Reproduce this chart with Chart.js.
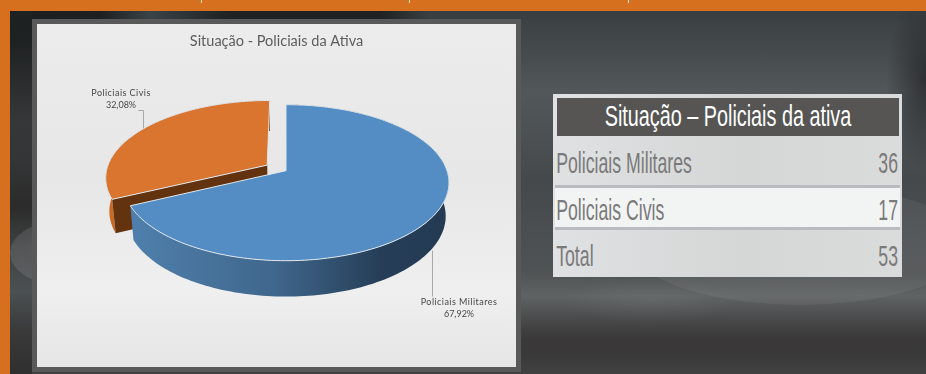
<!DOCTYPE html>
<html lang="pt-BR">
<head>
<meta charset="utf-8">
<title>Situação - Policiais da Ativa</title>
<script src="https://cdn.jsdelivr.net/npm/chart.js@4"></script>
<style>
  html, body { margin: 0; padding: 0; }
  body {
    position: relative;
    width: 926px;
    height: 374px;
    overflow: hidden;
    background: #d6701f;
  }
  .stage {
    position: absolute;
    left: 10px;
    top: 11px;
    right: 0;
    bottom: 0;
    background:
      radial-gradient(ellipse 170px 60px at 790px 234px, rgba(255,255,255,.07) 0, rgba(255,255,255,.05) 99%, rgba(255,255,255,0) 100%),
      radial-gradient(ellipse 50px 32px at 50px 242px, rgba(255,255,255,.12) 0, rgba(255,255,255,.10) 99%, rgba(255,255,255,0) 100%),
      radial-gradient(ellipse 40px 90px at 916px 70px, rgba(20,20,20,.55), rgba(20,20,20,0)),
      radial-gradient(ellipse 90px 24px at 640px 290px, rgba(255,255,255,.05), rgba(255,255,255,0)),
      linear-gradient(180deg, #1e2122 0, #1f2223 30px, #353738 110px, #343536 150px, #2b2b2b 195px, #3f4142 235px, #4b5052 280px, #3a3a3a 320px, #2f2f2f 363px) 0 0 / 22px 100% no-repeat,
      linear-gradient(90deg, #1c1e1f 0, #1d1f20 90px, #3a4347 140px, #1f2122 220px, #1f2122 370px, #3a4042 420px) 0 0 / 100% 8px no-repeat,
      linear-gradient(180deg, #3a3f42 0, #42474a 30px, #52575a 80px, #45494c 170px, #505354 262px, #5f6363 285px, #4c4d4e 305px, #3a3838 328px, #3b3a3a 345px, #414141 363px);
  }
  .tick { position: absolute; top: 0; width: 1px; height: 3px; background: #f6e6d6; }
  .panel {
    position: absolute;
    left: 32px;
    top: 19px;
    width: 479px;
    height: 343px;
    border: 5px solid #585958;
    background: linear-gradient(180deg, #ececed 0, #e7e7e7 45%, #efefef 78%, #e6e6e6 100%);
  }
  .panel canvas { display: block; }
  .tableBox {
    position: absolute;
    left: 553px;
    top: 94px;
    width: 349px;
    height: 183px;
    overflow: hidden;
    background: linear-gradient(90deg, #dfe1e2 0, #d5d6d6 55%, #dadbdb 100%);
  }
  table {
    position: absolute;
    left: 2px;
    top: 0;
    width: 345px;
    border-collapse: separate;
    border-spacing: 0;
    table-layout: fixed;
    font-family: "Liberation Sans Narrow", "Liberation Sans", sans-serif;
  }
  th, td { padding: 0; overflow: hidden; white-space: nowrap; }
  .head { height: 42px; padding: 4px 1px 0 2px; box-sizing: border-box; }
  .head div {
    position: relative;
    height: 38px;
    line-height: 36px;
    background: #565553;
    color: #fff;
    font-size: 30px;
    font-weight: normal;
  }
  .head span { position: absolute; left: 50%; top: 0; transform: translateX(-50%) scale(.66, 1); }
  tr.row td { color: #7a7a7a; font-size: 30px; }
  tr.row .name span { display: inline-block; position: relative; transform: scale(.59, 1); transform-origin: left center; padding-left: 2px; }
  tr.row .num { text-align: right; width: 50px; }
  tr.row .num span { display: inline-block; position: relative; transform: scale(.59, 1); transform-origin: right center; padding-right: 4px; }
  tr.r0 td { height: 49px; border-bottom: 3px solid #b9bbc0; }
  tr.r1 td { height: 39px; background: #f2f4f4; border-bottom: 3px solid #b9bbc0; }
  tr.r2 td { height: 47px; }
  tr.r0 span { top: 2.5px; }
  tr.r1 span { top: 2px; }
  tr.r2 span { top: 2px; }
</style>
</head>
<body>
<div class="stage"></div>
<div class="tick" style="left:201px"></div>
<div class="tick" style="left:409px"></div>
<div class="tick" style="left:628px"></div>
<div class="panel"><canvas id="situacaoChart" width="479" height="343"></canvas></div>
<div class="tableBox"><table id="situacaoTable"></table></div>

<script>
const chartTitle = "Situação - Policiais da Ativa"
const tableTitle = "Situação – Policiais da ativa"
const categories = ["Policiais Militares", "Policiais Civis"]
const officers = [36, 17]
const tableLabels = ["Policiais Militares", "Policiais Civis", "Total"]
const tableValues = [36, 17, 53]

const sliceColors = ["#548dc4", "#d9752f"]
const cutFaceColors = ["#2b4a68", "#63330f"]
const labelAnchors = [
  { x: 422, y: 278 },
  { x: 84, y: 69 }
]
const leaderLines = [
  [[395, 226], [395, 272]],
  [[106, 104], [106, 86], [101, 86]]
]

// Squashed pie with some perspective, the numbers are the ellipse size in px
const tilt = { shiftX: 9.5, rx: 161, ry: 76.15, perspective: 0.1538, depth: 33, bottomScale: 0.98 }

function project(cx, cy, u, v, lower) {
  const w = 1 - tilt.perspective * v
  const k = lower ? tilt.bottomScale : 1
  return {
    x: cx + tilt.shiftX + tilt.rx * u / w * k,
    y: cy + tilt.ry * v / w + (lower ? tilt.depth / Math.sqrt(w) : 0)
  }
}

function sliceOutline(arc) {
  const { x, y, startAngle, endAngle, outerRadius } = arc
  const mid = (startAngle + endAngle) / 2
  const shift = (arc.options.offset || 0) / outerRadius
  const ou = Math.cos(mid) * shift
  const ov = Math.sin(mid) * shift
  const rim = (lower) => {
    const pts = []
    const steps = Math.ceil((endAngle - startAngle) * 40)
    for (let i = 0; i <= steps; i++) {
      const a = startAngle + (endAngle - startAngle) * i / steps
      pts.push(project(x, y, ou + Math.cos(a), ov + Math.sin(a), lower))
    }
    return pts
  }
  return {
    top: rim(false),
    bottom: rim(true),
    apexTop: project(x, y, ou, ov, false),
    apexBottom: project(x, y, ou, ov, true)
  }
}

function tracePolygon(ctx, pts) {
  ctx.beginPath()
  pts.forEach((p, i) => (i ? ctx.lineTo(p.x, p.y) : ctx.moveTo(p.x, p.y)))
  ctx.closePath()
}

function wallGradient(ctx, index) {
  const g = ctx.createLinearGradient(90, 0, 415, 0)
  if (index === 0) {
    g.addColorStop(0, "#4f80ad")
    g.addColorStop(0.45, "#40678c")
    g.addColorStop(0.78, "#263e58")
    g.addColorStop(1, "#233a52")
  } else {
    g.addColorStop(0, "#c96a26")
    g.addColorStop(0.08, "#a5561c")
    g.addColorStop(1, "#63330f")
  }
  return g
}

const pie3d = {
  id: "pie3d",
  beforeDatasetDraw(chart, args) {
    // the flat arcs are replaced by the projected slices below
    const ctx = chart.ctx
    const arcs = args.meta.data
    for (let i = arcs.length - 1; i >= 0; i--) {
      const arc = arcs[i]
      const shape = sliceOutline(arc)
      ctx.save()
      ctx.fillStyle = wallGradient(ctx, i)
      tracePolygon(ctx, shape.top.concat(shape.bottom.slice().reverse()))
      ctx.fill()
      ctx.fillStyle = cutFaceColors[i]
      tracePolygon(ctx, [shape.apexTop, shape.top[0], shape.bottom[0], shape.apexBottom])
      ctx.fill()
      ctx.fillStyle = arc.options.backgroundColor
      ctx.strokeStyle = arc.options.borderColor
      ctx.lineWidth = 1
      tracePolygon(ctx, [shape.apexTop].concat(shape.top))
      ctx.fill()
      ctx.stroke()
      ctx.restore()
    }
    return false
  },
  afterDatasetsDraw(chart) {
    const ctx = chart.ctx
    const total = officers.reduce((a, b) => a + b, 0)
    ctx.save()
    ctx.strokeStyle = "#a9a9a9"
    ctx.lineWidth = 1
    leaderLines.forEach((line) => {
      ctx.beginPath()
      line.forEach((p, i) => (i ? ctx.lineTo(p[0] + 0.5, p[1] + 0.5) : ctx.moveTo(p[0] + 0.5, p[1] + 0.5)))
      ctx.stroke()
    })
    ctx.fillStyle = "#484848"
    ctx.font = "9px Lato, sans-serif"
    ctx.textAlign = "center"
    ctx.textBaseline = "middle"
    categories.forEach((name, i) => {
      const pct = (officers[i] / total * 100).toFixed(2).replace(".", ",") + "%"
      ctx.letterSpacing = "0.45px"
      ctx.fillText(name, labelAnchors[i].x, labelAnchors[i].y)
      ctx.letterSpacing = "0px"
      ctx.fillText(pct, labelAnchors[i].x, labelAnchors[i].y + 12.5)
    })
    ctx.restore()
  }
}

Chart.defaults.font.family = "Lato, sans-serif"

new Chart(document.getElementById("situacaoChart"), {
  type: "pie",
  plugins: [pie3d],
  data: {
    labels: categories,
    datasets: [{
      data: officers,
      backgroundColor: sliceColors,
      borderColor: "#dfe6ec",
      offset: [0, 14.5],
      hoverOffset: 0
    }]
  },
  options: {
    responsive: false,
    animation: false,
    layout: { padding: { bottom: 84 } },
    plugins: {
      legend: { display: false },
      tooltip: { enabled: false },
      title: {
        display: true,
        text: chartTitle,
        color: "#5d5d5d",
        font: { size: 14.5, weight: "normal" },
        padding: { top: 9, bottom: 8 }
      }
    }
  }
})

// data table on the right
const table = document.getElementById("situacaoTable")
let rows = '<tr><th colspan="2" class="head"><div><span>' + tableTitle + "</span></div></th></tr>"
tableLabels.forEach((label, i) => {
  rows += '<tr class="row r' + i + '"><td class="name"><span>' + label + '</span></td><td class="num"><span>' + tableValues[i] + "</span></td></tr>"
})
table.innerHTML = rows
</script>
</body>
</html>
